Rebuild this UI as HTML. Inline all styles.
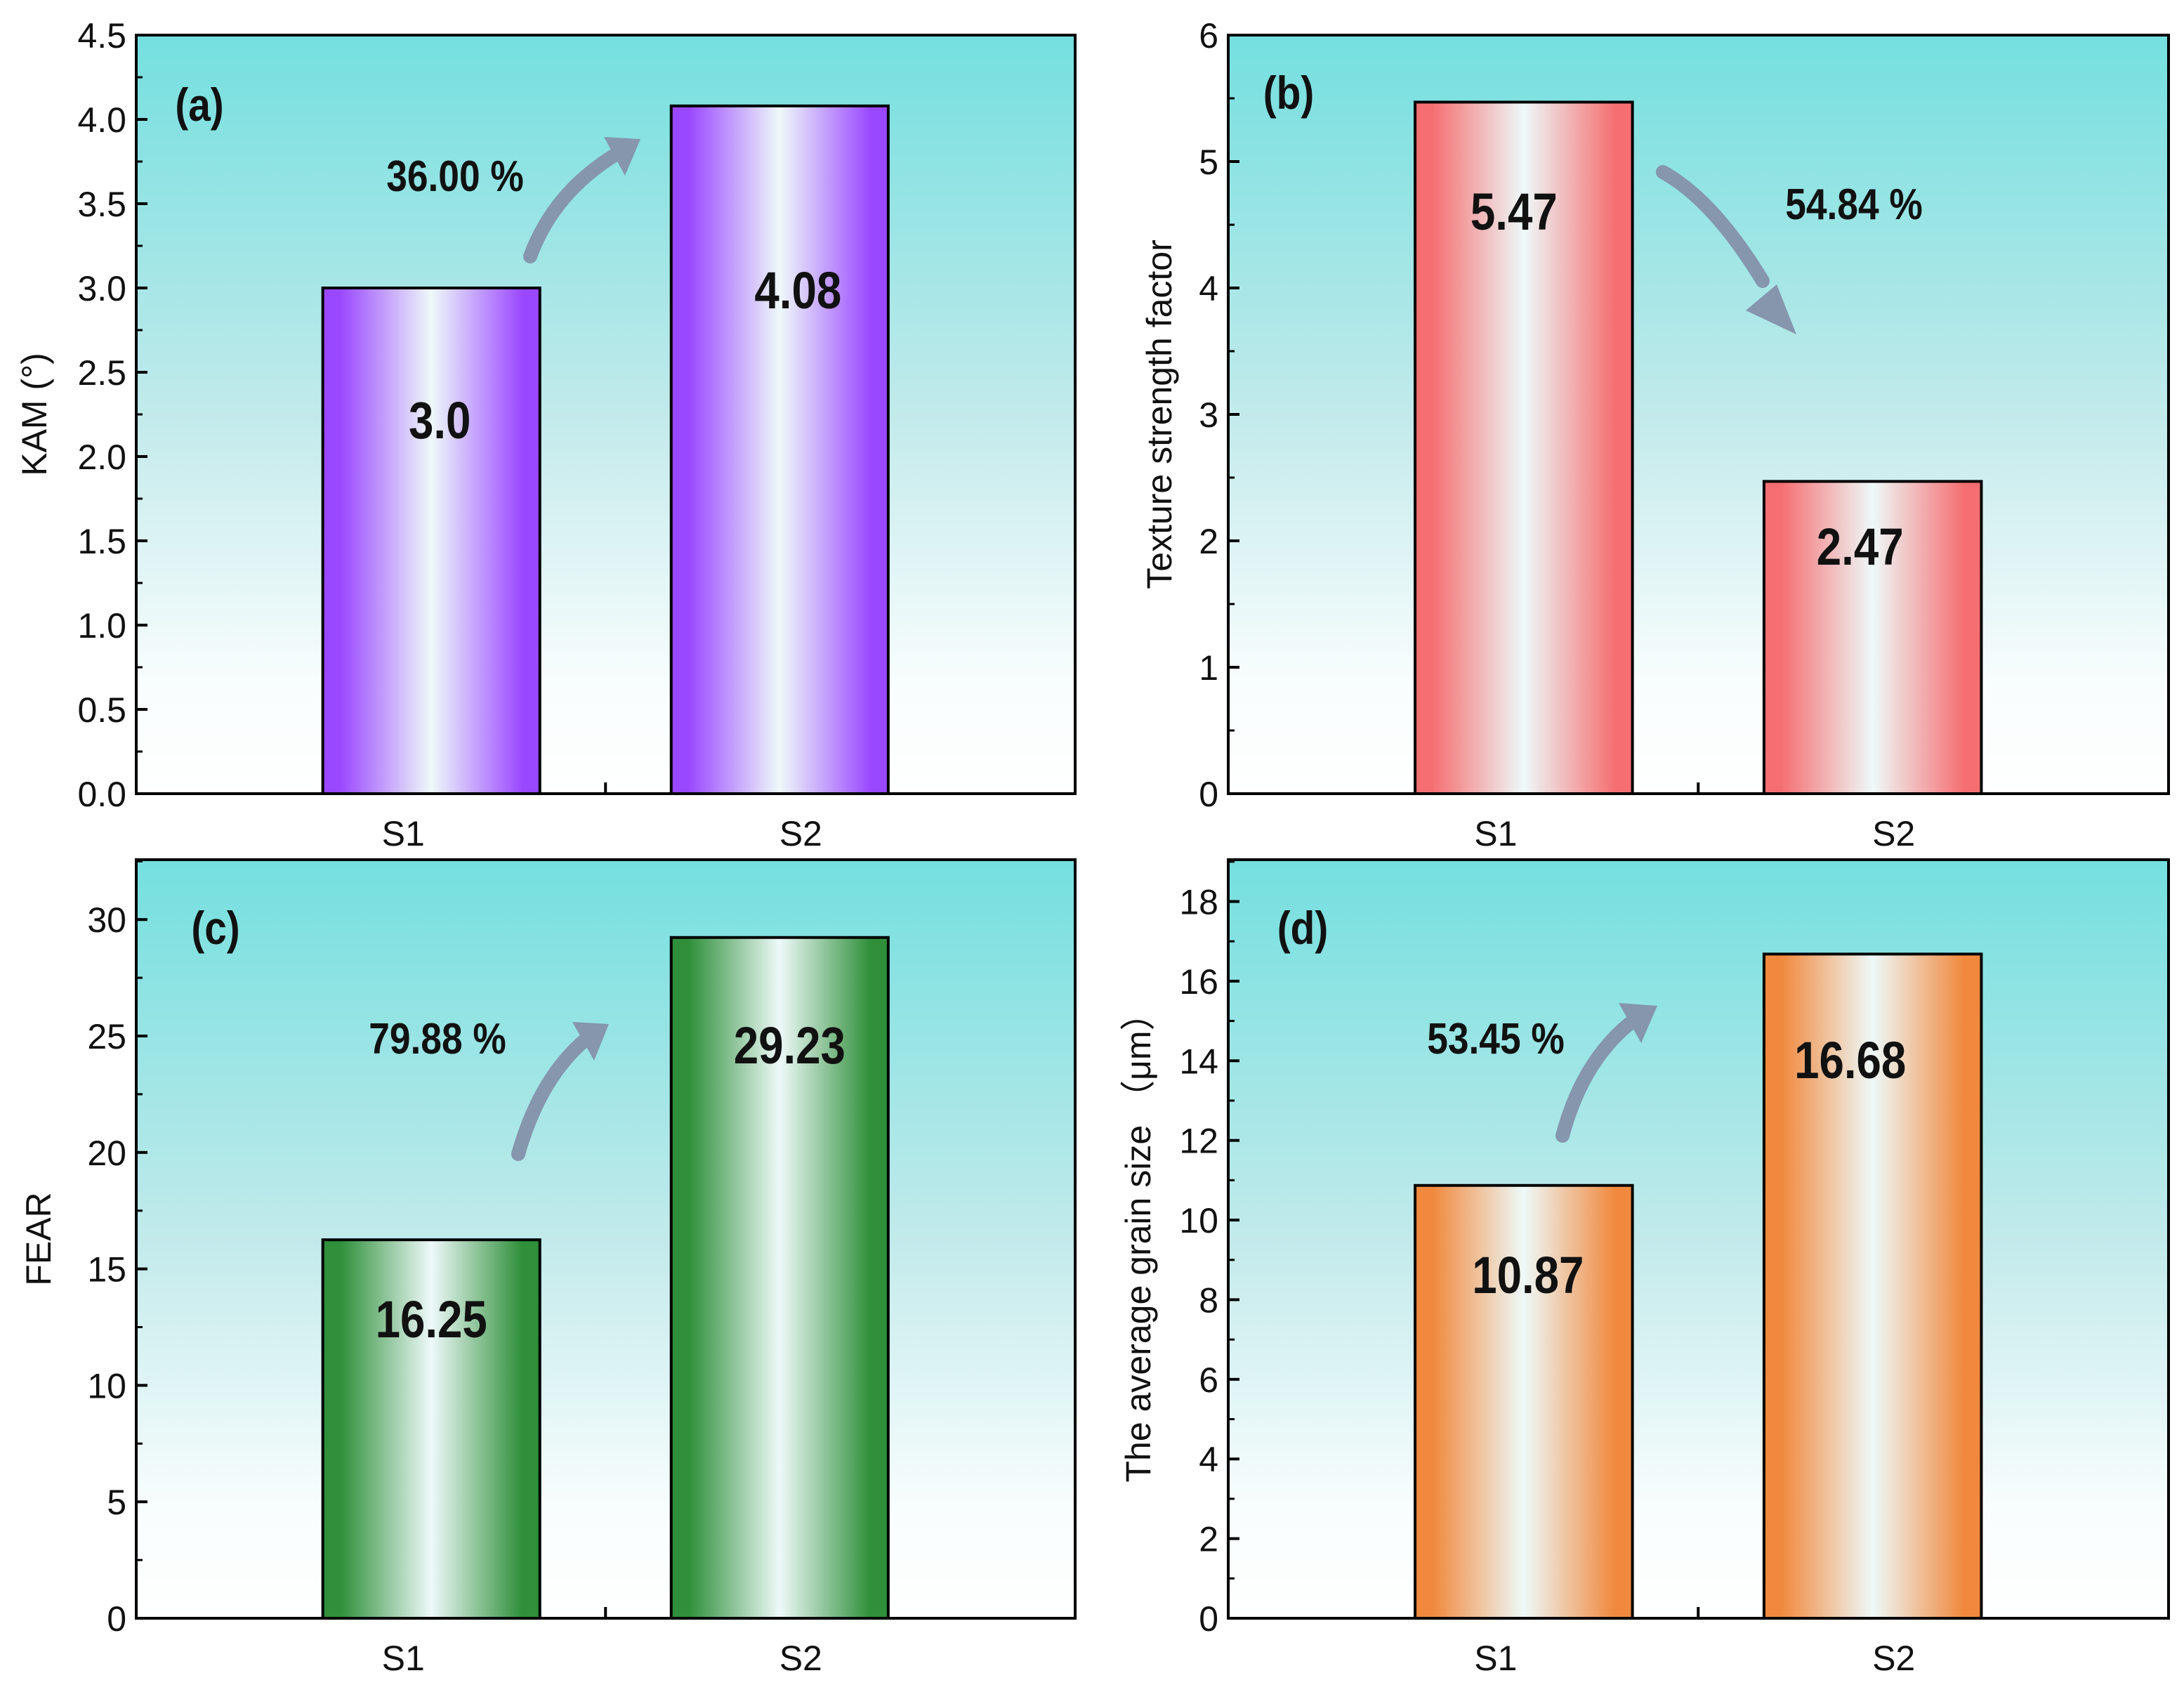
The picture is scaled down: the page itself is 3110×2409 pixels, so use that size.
<!DOCTYPE html>
<html><head><meta charset="utf-8">
<style>
html,body{margin:0;padding:0;background:#fff;}
svg{display:block;}
text{font-family:"Liberation Sans",sans-serif;}
.v{font-family:"Liberation Sans Narrow","Liberation Sans",sans-serif;font-weight:bold;}
</style></head>
<body>
<svg id="chart" width="3110" height="2409" viewBox="0 0 3110 2409" xmlns="http://www.w3.org/2000/svg">
<defs>
<linearGradient id="bg" x1="0" y1="0" x2="0" y2="1">
<stop offset="0" stop-color="#74dfdf"/><stop offset="0.5" stop-color="#c2eaeb"/><stop offset="0.85" stop-color="#f8fdfd"/><stop offset="1" stop-color="#ffffff"/>
</linearGradient>
</defs>
</svg>
<script>
const categories = ["S1","S2"];
const valuesA = [3.0, 4.08];
const valuesB = [5.47, 2.47];
const valuesC = [16.25, 29.23];
const valuesD = [10.87, 16.68];
const labelsA = ["3.0","4.08"];
const labelsB = ["5.47","2.47"];
const labelsC = ["16.25","29.23"];
const labelsD = ["10.87","16.68"];
const ticksA = [0,0.5,1.0,1.5,2.0,2.5,3.0,3.5,4.0,4.5];
const tickLabelsA = ["0.0","0.5","1.0","1.5","2.0","2.5","3.0","3.5","4.0","4.5"];
const ticksB = [0,1,2,3,4,5,6];
const ticksC = [0,5,10,15,20,25,30];
const ticksD = [0,2,4,6,8,10,12,14,16,18];
const pctA = "36.00 %", pctB = "54.84 %", pctC = "79.88 %", pctD = "53.45 %";

const NS = "http://www.w3.org/2000/svg";
const svg = document.getElementById('chart');
function mk(tag, attrs, parent){const e=document.createElementNS(NS,tag);for(const k in attrs)e.setAttribute(k,attrs[k]);(parent||svg).appendChild(e);return e;}
const xLabOff = [-40, 30];

const panels = [
 {id:"a", x0:194, x1:1531, y0:50, y1:1130, ymax:4.5, vals:valuesA, labs:labelsA, ticks:ticksA, tl:tickLabelsA, minor:0.25, color:"#9a48ff",
  title:"KAM (°)", titleX:66, tag:"(a)", tagPos:[284,150], pct:pctA, pctPos:[648,252], valY:[600,415], valDx:[12,26],
  arrow:{d:"M 755 365 Q 790 270 885 215", head:[[912,198],[860,195],[890,250]]}},
 {id:"b", x0:1749, x1:3088, y0:50, y1:1130, ymax:6, vals:valuesB, labs:labelsB, ticks:ticksB, tl:null, minor:0.5, color:"#f56f72",
  title:"Texture strength factor", titleX:1668, tag:"(b)", tagPos:[1835,133], pct:pctB, pctPos:[2640,292], valY:[303,780], valDx:[-14,-18],
  arrow:{d:"M 2368 245 Q 2440 285 2510 400", head:[[2558,476],[2486,442],[2530,405]]}},
 {id:"c", x0:194, x1:1531, y0:1224, y1:2304, ymax:32.57, vals:valuesC, labs:labelsC, ticks:ticksC, tl:null, minor:2.5, color:"#2f8f3a",
  title:"FEAR", titleX:72, tag:"(c)", tagPos:[307,1322], pct:pctC, pctPos:[623,1480], valY:[1880,1490], valDx:[0,14],
  arrow:{d:"M 738 1643 Q 770 1530 840 1475", head:[[867,1458],[815,1455],[846,1510]]}},
 {id:"d", x0:1749, x1:3088, y0:1224, y1:2304, ymax:19.05, vals:valuesD, labs:labelsD, ticks:ticksD, tl:null, minor:1, color:"#f0893e",
  title:"The average grain size （μm）", titleX:1638, tag:"(d)", tagPos:[1855,1322], pct:pctD, pctPos:[2130,1480], valY:[1817,1511], valDx:[6,-32],
  arrow:{d:"M 2225 1617 Q 2255 1505 2330 1450", head:[[2360,1432],[2305,1428],[2337,1485]]}}
];

function boldText(parent, cx, cy, size, str){
  const t = mk('text',{x:0,y:0,'text-anchor':'middle','font-size':size,fill:'#111',class:'v',transform:'translate('+cx+' '+cy+') scale(0.86 1)'},parent);
  t.textContent = str;
  return t;
}

panels.forEach(p=>{
  const g = mk('g',{});
  
  
  const W = p.x1-p.x0, H = p.y1-p.y0;
  const xmin = 0.153, xspan = 2.695, bw = 0.623;
  const X = v => p.x0 + (v-xmin)/xspan*W;
  const Y = v => p.y1 - v/p.ymax*H;
  const defs = mk('defs',{},g);
  const lg = mk('linearGradient',{id:'bar'+p.id,x1:0,y1:0,x2:1,y2:0},defs);
  [[0,p.color,1],[0.08,p.color,1],[0.5,'#eef9f9',1],[0.92,p.color,1],[1,p.color,1]].forEach(s=>{
    mk('stop',{offset:s[0],'stop-color':s[1],'stop-opacity':s[2]},lg);
  });
  const bgr = mk('rect',{x:p.x0,y:p.y0,width:W,height:H,fill:'url(#bg)'},g);
  
  
  p.vals.forEach((v,i)=>{
    const cx = X(i+1);
    const r = mk('rect',{x:cx-bw/2/xspan*W,y:Y(v),width:bw/xspan*W,height:p.y1-Y(v),fill:'url(#bar'+p.id+')',stroke:'#000','stroke-width':4},g);
    
    
    const t = boldText(g, cx+p.valDx[i], p.valY[i]+24, 74, p.labs[i]);
    
    
    const xl = mk('text',{x:cx+xLabOff[i],y:p.y1+74,'text-anchor':'middle','font-size':50,fill:'#111'},g);
    xl.textContent = categories[i];
    
    
  });
  const fr = mk('rect',{x:p.x0,y:p.y0,width:W,height:H,fill:'none',stroke:'#000','stroke-width':4},g);
  
  
  mk('line',{x1:X(1.5),x2:X(1.5),y1:p.y1,y2:p.y1-16,stroke:'#000','stroke-width':4},g);
  p.ticks.forEach((t,i)=>{
    mk('line',{x1:p.x0,x2:p.x0+16,y1:Y(t),y2:Y(t),stroke:'#000','stroke-width':4},g);
    const tl = mk('text',{x:p.x0-14,y:Y(t)+18,'text-anchor':'end','font-size':50,fill:'#111'},g);
    tl.textContent = p.tl ? p.tl[i] : String(t);
    
    
  });
  for(let m=p.minor; m<p.ymax; m+=2*p.minor){
    mk('line',{x1:p.x0,x2:p.x0+9,y1:Y(m),y2:Y(m),stroke:'#000','stroke-width':3},g);
  }
  const cy = (p.y0+p.y1)/2;
  const yt = mk('text',{x:p.titleX,y:cy,'text-anchor':'middle','font-size':50,fill:'#111',transform:'rotate(-90 '+p.titleX+' '+cy+')'},g);
  yt.textContent = p.title;
  
  
  const tg = boldText(g, p.tagPos[0], p.tagPos[1]+22, 66, p.tag);
  
  
  const pt = boldText(g, p.pctPos[0], p.pctPos[1]+20, 62, p.pct);
  
  
  const ar = mk('g',{},g);
  
  
  mk('path',{d:p.arrow.d,fill:'none',stroke:'#8596ad','stroke-width':20,'stroke-linecap':'round'},ar);
  mk('polygon',{points:p.arrow.head.map(q=>q.join(',')).join(' '),fill:'#8596ad'},ar);
});
</script>
</body></html>
